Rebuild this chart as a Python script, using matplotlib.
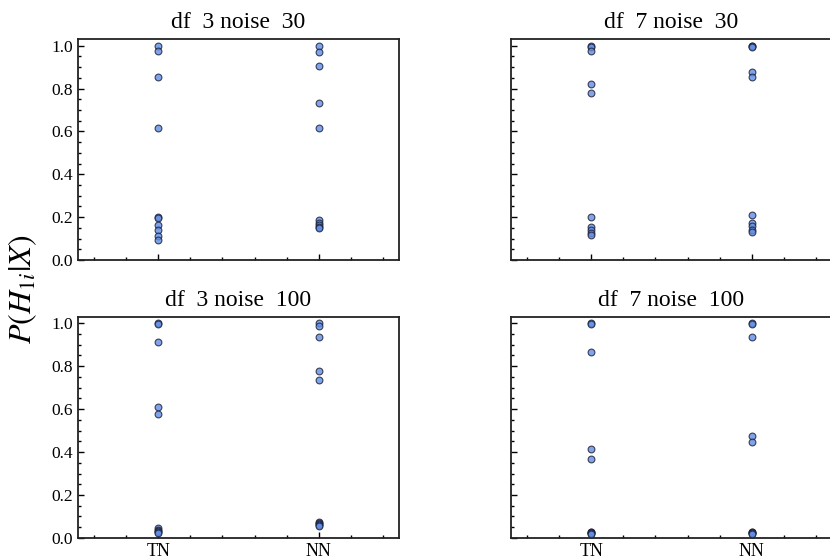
import matplotlib
matplotlib.use("Agg")
import matplotlib.pyplot as plt
from matplotlib.ticker import MultipleLocator

plt.rcParams["font.family"] = ["Liberation Serif", "DejaVu Serif"]
plt.rcParams["mathtext.fontset"] = "stix"

methods = ["TN", "NN"]

# posterior probabilities per panel: (df, noise) -> TN values, NN values
tn_df3_n30 = [1.0, 0.975, 0.855, 0.615, 0.20, 0.195, 0.165, 0.14, 0.11, 0.095]
nn_df3_n30 = [1.0, 0.97, 0.905, 0.735, 0.615, 0.188, 0.172, 0.162, 0.152, 0.148]
tn_df7_n30 = [1.0, 0.995, 0.975, 0.82, 0.78, 0.20, 0.152, 0.14, 0.125, 0.115]
nn_df7_n30 = [1.0, 0.998, 0.995, 0.877, 0.855, 0.21, 0.172, 0.157, 0.142, 0.13]
tn_df3_n100 = [1.0, 0.995, 0.91, 0.61, 0.577, 0.045, 0.038, 0.032, 0.028, 0.025]
nn_df3_n100 = [1.0, 0.986, 0.935, 0.775, 0.736, 0.075, 0.068, 0.064, 0.06, 0.058]
tn_df7_n100 = [1.0, 0.998, 0.865, 0.413, 0.367, 0.03, 0.027, 0.025, 0.022, 0.02]
nn_df7_n100 = [1.0, 0.998, 0.937, 0.474, 0.448, 0.03, 0.028, 0.025, 0.022, 0.02]

panels = [
    ("df  3 noise  30", tn_df3_n30, nn_df3_n30),
    ("df  7 noise  30", tn_df7_n30, nn_df7_n30),
    ("df  3 noise  100", tn_df3_n100, nn_df3_n100),
    ("df  7 noise  100", tn_df7_n100, nn_df7_n100),
]

fig = plt.figure(figsize=(8.3, 5.59), dpi=100)
positions = [
    [0.094, 0.5349, 0.3867, 0.3948],
    [0.6157, 0.5349, 0.3867, 0.3948],
    [0.094, 0.0376, 0.3867, 0.3959],
    [0.6157, 0.0376, 0.3867, 0.3959],
]

for i, (title, tn, nn) in enumerate(panels):
    ax = fig.add_axes(positions[i])
    for j, vals in enumerate([tn, nn]):
        ax.scatter([j] * len(vals), vals, s=24, color="#608ee6", alpha=0.8,
                   edgecolors="#1a1a2e", linewidths=0.8, zorder=3)
    ax.set_xlim(-0.5, 1.5)
    ax.set_ylim(0, 1.03)
    ax.set_xticks([0, 1])
    ax.xaxis.set_minor_locator(MultipleLocator(0.2))
    ax.yaxis.set_major_locator(MultipleLocator(0.2))
    ax.yaxis.set_minor_locator(MultipleLocator(0.05))
    ax.tick_params(which="both", direction="in", top=False, right=False,
                   labelsize=12.5, width=1.0)
    ax.tick_params(which="major", length=4)
    ax.tick_params(which="minor", length=2)
    if i < 2:
        ax.set_xticklabels([])
    else:
        ax.set_xticklabels(methods, fontsize=13)
    if i % 2 == 1:
        ax.set_yticklabels([])
    for sp in ax.spines.values():
        sp.set_linewidth(1.3)
        sp.set_color("#222222")
    ax.set_title(title, fontsize=17, pad=8)

fig.text(0.027, 0.483, r"$P(H_{1i}|X)$", rotation=90, fontsize=23,
         ha="center", va="center")

fig.savefig("out.png", dpi=100)
